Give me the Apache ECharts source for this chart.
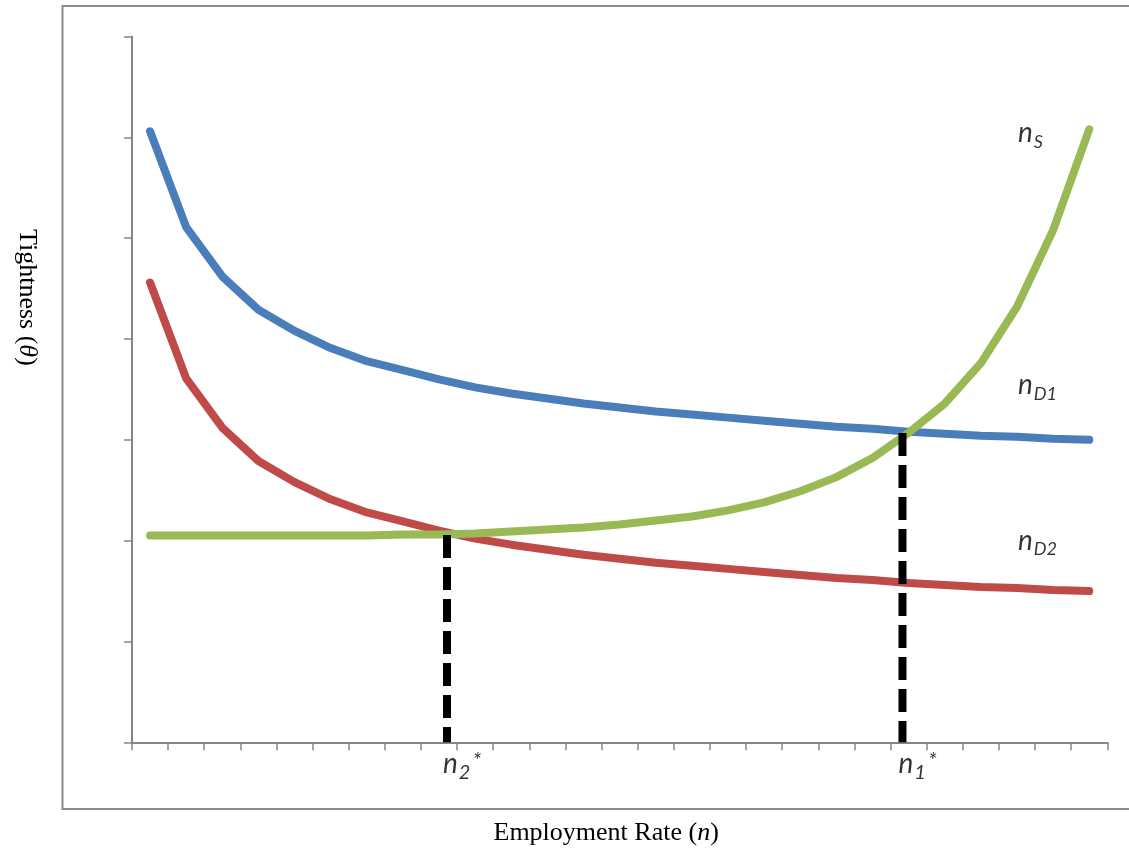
<!DOCTYPE html>
<html>
<head>
<meta charset="utf-8">
<script src="https://cdn.jsdelivr.net/npm/echarts@6/dist/echarts.min.js"></script>
<style>
html,body{margin:0;padding:0;background:#fff;}
#chart{width:1129px;height:857px;}
</style>
</head>
<body>
<div id="chart"></div>
<script>
// ---- data ----
const xPositions = [0.5, 1.5, 2.5, 3.5, 4.5, 5.5, 6.5, 7.5, 8.5, 9.5, 10.5, 11.5, 12.5, 13.5,
  14.5, 15.5, 16.5, 17.5, 18.5, 19.5, 20.5, 21.5, 22.5, 23.5, 24.5, 25.5, 26.5];
const nD1Values = [6.06, 5.11, 4.62, 4.29, 4.08, 3.91, 3.78, 3.69, 3.60, 3.52, 3.46, 3.41, 3.36, 3.32,
  3.28, 3.25, 3.22, 3.19, 3.16, 3.13, 3.11, 3.08, 3.06, 3.04, 3.03, 3.01, 3.00];
const nD2Values = [4.56, 3.61, 3.12, 2.79, 2.58, 2.41, 2.28, 2.19, 2.10, 2.02, 1.96, 1.91, 1.86, 1.82,
  1.78, 1.75, 1.72, 1.69, 1.66, 1.63, 1.61, 1.58, 1.56, 1.54, 1.53, 1.51, 1.50];
const nSValues = [2.05, 2.05, 2.05, 2.05, 2.05, 2.05, 2.05, 2.06, 2.06, 2.07, 2.09, 2.11, 2.13, 2.16,
  2.20, 2.24, 2.30, 2.38, 2.49, 2.63, 2.82, 3.07, 3.36, 3.76, 4.32, 5.08, 6.08];
// equilibrium employment rates (x) and the tightness where the dashed guide stops
const eqX = [8.72, 21.33];
const eqTop = [2.056, 3.067];
const eqSub = ['2', '1'];
// curve names and their anchor points in data units
const curveNames = ['S', 'D1', 'D2'];
const curveLabelX = [24.53, 24.53, 24.53];
const curveLabelY = [6.02, 3.52, 1.98];

const xTitle = 'Employment Rate ({i|n})';
const yTitle = 'Tightness ({i|θ})';

// ---- chart ----
const chart = echarts.init(document.getElementById('chart'), null, {renderer: 'canvas'});

const axisGray = '#868686';
const labelFont = 'Lato';

function curve(name, vals, color) {
  return {
    type: 'line', name: name,
    data: xPositions.map((x, i) => [x, vals[i]]),
    symbol: 'none', showSymbol: false, silent: true,
    lineStyle: {width: 8, color: color, cap: 'round', join: 'round'},
    z: 2
  };
}

const richLabel = {
  n: {fontFamily: labelFont, fontStyle: 'italic', fontSize: 28, lineHeight: 28, color: '#000', verticalAlign: 'top'},
  s: {fontFamily: labelFont, fontStyle: 'italic', fontSize: 18, color: '#000', verticalAlign: 'top', padding: [14, 0, 0, 1]},
  d: {fontFamily: labelFont, fontStyle: 'italic', fontSize: 20, color: '#000', verticalAlign: 'top', padding: [13, 0, 0, 1]},
  a: {fontFamily: labelFont, fontStyle: 'italic', fontSize: 22, color: '#000', verticalAlign: 'top', padding: [0, 0, 0, 2]}
};

const dashedSeries = eqX.map((x, k) => ({
  type: 'line',
  data: [[x, eqTop[k]], [x, 0]],
  symbol: 'none', showSymbol: false, silent: true,
  lineStyle: {color: '#000', width: 8, type: [23, 9], cap: 'butt'},
  z: 5
}));

const labelSeries = {
  type: 'scatter',
  symbol: 'circle', symbolSize: 0.1,
  itemStyle: {color: 'rgba(0,0,0,0)'},
  silent: true, clip: false, z: 6,
  label: {show: true, position: [0, 0], align: 'left', verticalAlign: 'middle', rich: richLabel},
  data: curveNames.map((nm, k) => ({
    value: [curveLabelX[k], curveLabelY[k]],
    label: {formatter: '{n|n}{s|' + nm + '}'}
  })).concat(eqX.map((x, k) => ({
    value: [x, 0],
    label: {formatter: '{n|n}{d|' + eqSub[k] + '}{a|*}', position: [-4, 24]}
  })))
};

const option = {
  animation: false,
  backgroundColor: '#fff',
  grid: {left: 132, right: 21.7, top: 36.5, bottom: 114.7, containLabel: false},
  xAxis: {
    type: 'value', min: 0, max: 27, interval: 1,
    name: xTitle, nameLocation: 'middle', nameGap: 78,
    nameTextStyle: {fontFamily: 'Liberation Serif', fontSize: 26, color: '#000', padding: [0, 27, 0, 0],
      rich: {i: {fontFamily: 'Liberation Serif', fontStyle: 'italic', fontSize: 26, color: '#000'}}},
    axisLine: {show: true, onZero: false, lineStyle: {color: axisGray, width: 2}},
    axisTick: {show: true, inside: false, length: 8, lineStyle: {color: axisGray, width: 1.5}},
    axisLabel: {show: false},
    splitLine: {show: false}
  },
  yAxis: {
    type: 'value', min: 0, max: 7, interval: 1,
    name: yTitle, nameLocation: 'middle', nameRotate: -90, nameGap: 92,
    nameTextStyle: {fontFamily: 'Liberation Serif', fontSize: 26, color: '#000', padding: [0, 184, 0, 0],
      rich: {i: {fontFamily: 'Liberation Serif', fontStyle: 'italic', fontSize: 26, color: '#000'}}},
    axisLine: {show: true, onZero: false, lineStyle: {color: axisGray, width: 2}},
    axisTick: {show: true, inside: false, length: 8, lineStyle: {color: axisGray, width: 1.5}},
    axisLabel: {show: false},
    splitLine: {show: false}
  },
  graphic: [{
    type: 'rect', silent: true, z: -10,
    shape: {x: 62.5, y: 6, width: 1100, height: 803},
    style: {fill: 'none', stroke: '#8c8c8c', lineWidth: 2}
  }],
  series: [
    curve('nD1', nD1Values, '#4a7ebb'),
    curve('nD2', nD2Values, '#be4b48'),
    curve('nS', nSValues, '#98b954')
  ].concat(dashedSeries).concat([labelSeries])
};

chart.setOption(option);
</script>
</body>
</html>
